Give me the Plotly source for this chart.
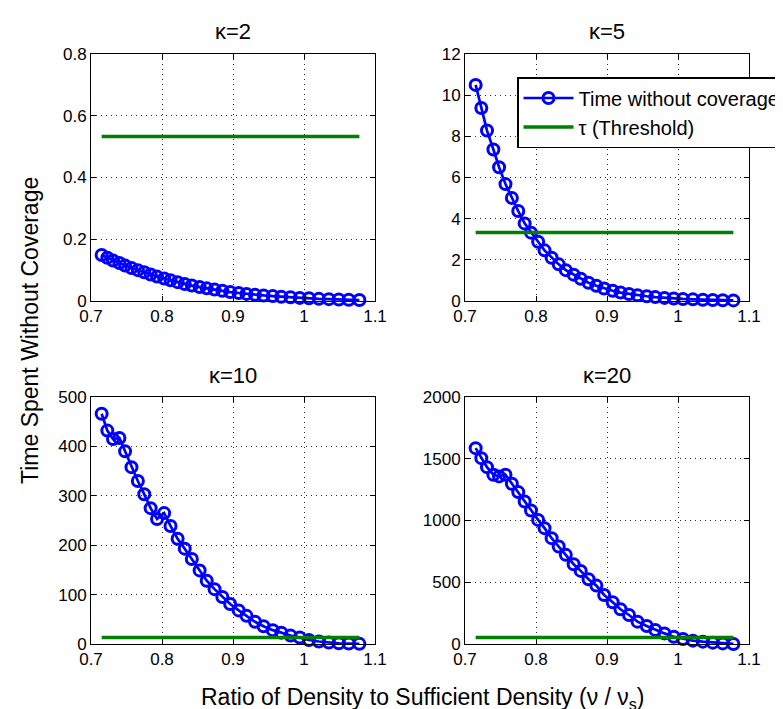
import plotly.graph_objects as go

# eixo x: razao entre densidade e densidade suficiente
x_ratio = [0.715, 0.723, 0.731, 0.740, 0.748, 0.757, 0.766, 0.775, 0.784, 0.793,
           0.803, 0.812, 0.822, 0.832, 0.842, 0.853, 0.863, 0.874, 0.885, 0.896,
           0.908, 0.919, 0.931, 0.943, 0.956, 0.968, 0.981, 0.994, 1.007, 1.021,
           1.035, 1.049, 1.063, 1.078]

kappas = [2, 5, 10, 20]

tempo_k2 = [0.149, 0.140, 0.131, 0.123, 0.115, 0.107, 0.100, 0.093, 0.086, 0.079,
            0.073, 0.067, 0.061, 0.055, 0.050, 0.045, 0.041, 0.037, 0.033, 0.029,
            0.026, 0.023, 0.020, 0.018, 0.016, 0.014, 0.012, 0.010, 0.009, 0.007,
            0.006, 0.005, 0.004, 0.003]
tempo_k5 = [10.5, 9.38, 8.28, 7.36, 6.50, 5.68, 5.01, 4.37, 3.77, 3.32,
            2.88, 2.46, 2.10, 1.78, 1.50, 1.28, 1.08, 0.89, 0.74, 0.61,
            0.50, 0.41, 0.34, 0.28, 0.23, 0.19, 0.15, 0.12, 0.10, 0.08,
            0.06, 0.05, 0.04, 0.03]
tempo_k10 = [466, 432, 415, 417, 390, 358, 330, 303, 275, 253,
             265, 239, 213, 193, 172, 149, 128, 111, 95, 81,
             68, 57, 45, 36, 28, 23, 17, 13, 8, 5,
             3, 1.5, 1, 0.3]
tempo_k20 = [1586, 1505, 1432, 1370, 1357, 1370, 1297, 1230, 1154, 1081,
             1005, 938, 857, 789, 722, 646, 592, 524, 473, 397,
             338, 281, 235, 181, 146, 114, 86, 59, 41, 27,
             19, 11, 5, 0.5]

limiar_tau = [0.533, 3.33, 13.3, 53.3]

y_max = [0.8, 12, 500, 2000]
y_dtick = [0.2, 2, 100, 500]

W, H = 783, 709
FONTE = "Liberation Sans, Arial, Helvetica, sans-serif"


def px(x):
    return x / W


def py(y):
    return 1 - y / H


# caixas em pixels (esquerda, direita, topo, base)
caixas = [(83, 367, 46, 293), (457, 741, 46, 293),
          (83, 367, 389, 636), (457, 741, 389, 636)]

series = [tempo_k2, tempo_k5, tempo_k10, tempo_k20]

fig = go.Figure()
layout = dict(
    width=W, height=H,
    margin=dict(l=0, r=0, t=0, b=0, autoexpand=False),
    paper_bgcolor="white", plot_bgcolor="white",
    font=dict(family=FONTE, size=17, color="black"),
    annotations=[],
)

for i, (k, ys, tau) in enumerate(zip(kappas, series, limiar_tau)):
    n = i + 1
    xa = "x" if n == 1 else f"x{n}"
    ya = "y" if n == 1 else f"y{n}"
    l, r, t, b = caixas[i]

    fig.add_trace(go.Scatter(
        x=x_ratio, y=ys, mode="lines+markers",
        name="Time without coverage", showlegend=(n == 2),
        line=dict(color="rgb(0,0,255)", width=2.7),
        marker=dict(symbol="circle-open", size=11, color="rgb(0,0,255)",
                    line=dict(width=3, color="rgb(0,0,255)")),
        cliponaxis=False, xaxis=xa, yaxis=ya,
    ))
    fig.add_trace(go.Scatter(
        x=[x_ratio[0], x_ratio[-1]], y=[tau, tau], mode="lines",
        name="τ (Threshold)", showlegend=(n == 2),
        line=dict(color="rgb(0,128,0)", width=3.5),
        xaxis=xa, yaxis=ya,
    ))

    eixo = dict(
        showline=True, linecolor="black", linewidth=1, mirror="ticks",
        ticks="inside", ticklen=5, tickcolor="black",
        showgrid=True, gridcolor="rgb(40,40,40)", gridwidth=1, griddash="1px,4px",
        zeroline=False, tickfont=dict(size=17),
    )
    layout["xaxis" if n == 1 else f"xaxis{n}"] = dict(
        eixo, domain=[px(l), px(r)], range=[0.7, 1.1], dtick=0.1, tick0=0.7,
        anchor=ya,
    )
    layout["yaxis" if n == 1 else f"yaxis{n}"] = dict(
        eixo, domain=[py(b), py(t)], range=[0, y_max[i]], dtick=y_dtick[i],
        anchor=xa,
    )
    layout["annotations"].append(dict(
        text=f"κ={k}", x=px((l + r) / 2), y=py(t - 22),
        xref="paper", yref="paper", xanchor="center", yanchor="middle",
        showarrow=False, font=dict(size=22),
    ))

layout["annotations"].append(dict(
    text="Time Spent Without Coverage", x=px(22), y=py(323),
    xref="paper", yref="paper", xanchor="center", yanchor="middle",
    textangle=-90, showarrow=False, font=dict(size=23),
))
layout["annotations"].append(dict(
    text="Ratio of Density to Sufficient Density (ν / ν<sub>s</sub>)",
    x=px(415), y=py(690),
    xref="paper", yref="paper", xanchor="center", yanchor="middle",
    showarrow=False, font=dict(size=23),
))

layout["showlegend"] = True
layout["legend"] = dict(
    x=px(509), y=py(69), xanchor="left", yanchor="top",
    bgcolor="white", bordercolor="black", borderwidth=1.5,
    font=dict(size=20), itemwidth=50, tracegroupgap=0,
)

fig.update_layout(layout)
fig.write_html("out.html")
